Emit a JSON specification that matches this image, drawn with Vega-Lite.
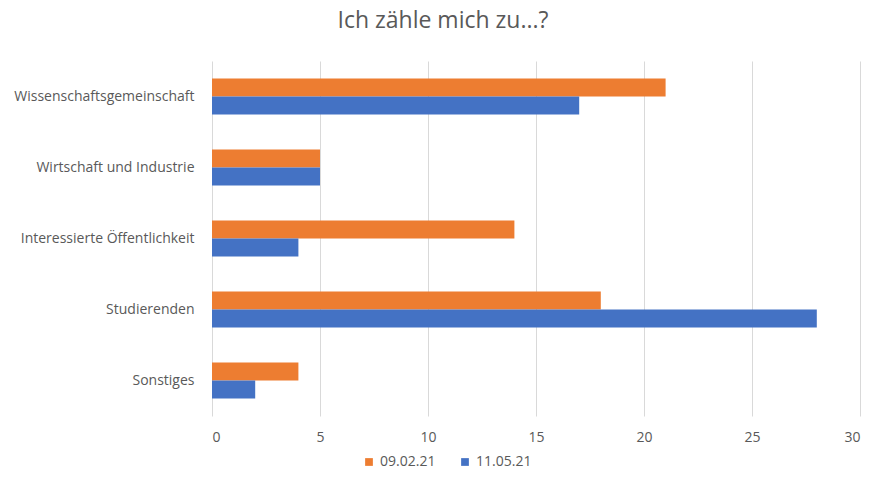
{
  "$schema": "https://vega.github.io/schema/vega-lite/v6.json",
  "width": 648,
  "height": 355,
  "autosize": {"type": "none"},
  "padding": {"left": 212, "right": 14, "top": 61, "bottom": 68},
  "background": "white",
  "title": {
    "text": "Ich zähle mich zu...?",
    "font": "Open Sans",
    "fontSize": 23,
    "fontWeight": "normal",
    "color": "#595959",
    "anchor": "middle",
    "frame": "group",
    "dx": -93,
    "offset": 28
  },
  "data": {
    "values": [
      {"kategorie": "Wissenschaftsgemeinschaft", "datum": "09.02.21", "wert": 21},
      {"kategorie": "Wissenschaftsgemeinschaft", "datum": "11.05.21", "wert": 17},
      {"kategorie": "Wirtschaft und Industrie", "datum": "09.02.21", "wert": 5},
      {"kategorie": "Wirtschaft und Industrie", "datum": "11.05.21", "wert": 5},
      {"kategorie": "Interessierte Öffentlichkeit", "datum": "09.02.21", "wert": 14},
      {"kategorie": "Interessierte Öffentlichkeit", "datum": "11.05.21", "wert": 4},
      {"kategorie": "Studierenden", "datum": "09.02.21", "wert": 18},
      {"kategorie": "Studierenden", "datum": "11.05.21", "wert": 28},
      {"kategorie": "Sonstiges", "datum": "09.02.21", "wert": 4},
      {"kategorie": "Sonstiges", "datum": "11.05.21", "wert": 2}
    ]
  },
  "mark": {"type": "bar"},
  "encoding": {
    "y": {
      "field": "kategorie",
      "type": "nominal",
      "sort": null,
      "scale": {"paddingInner": 0.49, "paddingOuter": 0.245},
      "axis": {
        "title": null,
        "domain": false,
        "ticks": false,
        "labelPadding": 18,
        "labelLimit": 300,
        "labelFont": "Open Sans",
        "labelFontSize": 14,
        "labelColor": "#595959"
      }
    },
    "yOffset": {"field": "datum", "type": "nominal", "sort": ["09.02.21", "11.05.21"]},
    "x": {
      "field": "wert",
      "type": "quantitative",
      "scale": {"domain": [0, 30], "nice": false},
      "axis": {
        "title": null,
        "values": [0, 5, 10, 15, 20, 25, 30],
        "domain": false,
        "ticks": false,
        "grid": true,
        "gridColor": "#d9d9d9",
        "gridWidth": 1,
        "labelPadding": 14,
        "labelFont": "Open Sans",
        "labelFontSize": 14,
        "labelColor": "#595959"
      }
    },
    "color": {
      "field": "datum",
      "type": "nominal",
      "scale": {"domain": ["09.02.21", "11.05.21"], "range": ["#ED7D31", "#4472C4"]},
      "legend": {
        "title": null,
        "orient": "none",
        "direction": "horizontal",
        "legendX": 150,
        "legendY": 394,
        "symbolType": "square",
        "symbolSize": 60,
        "symbolStrokeWidth": 0,
        "symbolOpacity": 1,
        "labelFont": "Open Sans",
        "labelFontSize": 14,
        "labelColor": "#595959",
        "columnPadding": 22,
        "labelOffset": 4
      }
    }
  },
  "config": {"view": {"stroke": null}}
}
